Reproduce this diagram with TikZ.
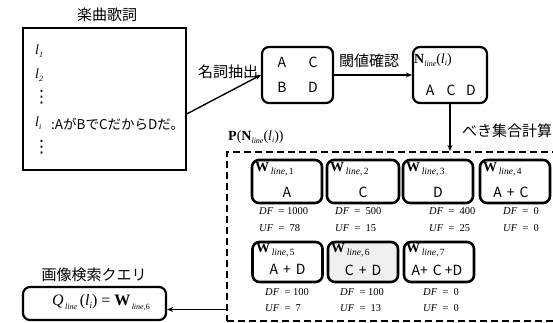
\documentclass[tikz,border=0pt]{standalone}
\usepackage{fontspec}
\setmainfont{Liberation Serif}
\newfontfamily\jp{Noto Sans CJK JP}
\newfontfamily\dvs{DejaVu Sans}
\usetikzlibrary{arrows.meta}
\newcommand\wlab[1]{\textbf{W}\raisebox{-3.5pt}{\fontsize{9.5}{9.5}\selectfont\,\textit{line},\,#1}}
\newcommand\lsb[1]{\textit{l}\raisebox{-2.5pt}{\fontsize{8}{8}\selectfont\textit{#1}}}
\begin{document}
\begin{tikzpicture}[x=1pt,y=-1pt,
  jptext/.style={font=\jp\fontsize{15}{17}\selectfont, inner sep=0pt},
  lettr/.style={font=\jp\fontsize{14}{16}\selectfont, inner sep=0pt},
  mathtxt/.style={font=\fontsize{14}{16}\selectfont, inner sep=0pt},
  small/.style={font=\fontsize{10.5}{12}\selectfont, inner sep=0pt, anchor=west},
  plainbox/.style={draw, line width=1.3pt, minimum width=163pt, minimum height=142pt, inner sep=0pt},
  rbox/.style={draw, line width=2.2pt, rounded corners=7pt, inner sep=0pt},
  wbox/.style={draw, line width=2.6pt, rounded corners=7pt, inner sep=0pt, minimum width=70pt},
  dashbox/.style={draw, line width=2pt, dash pattern=on 7pt off 4pt, inner sep=0pt},
  conn/.style={line width=1.4pt, -{Stealth[length=6pt,width=5pt]}},
  dotsn/.style={font=\dvs\fontsize{17}{17}\selectfont, inner sep=0pt, anchor=west}
]
\useasboundingbox (0,0) rectangle (553,323);

% lyrics
\node[jptext] (t1) at (107,15) {楽曲歌詞};
\node[plainbox] (lyr) at (104.5,99) {};
\node[mathtxt, anchor=west] (l1) at (35,51) {\lsb{1}};
\node[mathtxt, anchor=west] (l2) at (35,75) {\lsb{2}};
\node[dotsn] (v1) at (33,97) {⋮};
\node[mathtxt, anchor=west] (li) at (35,123) {\lsb{i}};
\node[font=\jp\fontsize{13.5}{15}\selectfont, inner sep=0pt, anchor=west] (lt) at (51,124) {:AがBでCだからDだ。};
\node[dotsn] (v2) at (33,147) {⋮};

% noun box
\node[rbox, minimum width=71pt, minimum height=56pt] (noun) at (297.5,75) {};
\node[lettr] (na) at (282,62) {A};
\node[lettr] (nc) at (313,62) {C};
\node[lettr] (nb) at (282,87) {B};
\node[lettr] (nd) at (313,87) {D};

% N box
\node[rbox, minimum width=74pt, minimum height=56pt] (nbox) at (450,75) {};
\node[mathtxt, anchor=west] (nl) at (414,60) {\textbf{N}\raisebox{-3pt}{\fontsize{8}{8}\selectfont\textit{line}}(\lsb{i})};
\node[lettr] (ma) at (430,90) {A};
\node[lettr] (mc) at (451,90) {C};
\node[lettr] (md) at (471,90) {D};

% connectors
\draw[conn] ([yshift=-15pt]lyr.east) -- (noun.west);
\node[jptext] (lab1) at (228,72) {名詞抽出};
\draw[conn] (noun.east) -- (nbox.west);
\node[jptext] (lab2) at (369,61) {閾値確認};

% dashed power set box
\node[dashbox, minimum width=340pt, minimum height=169pt] (pset) at (397,236.5) {};
\node[mathtxt, anchor=west] (plab) at (228,137) {\textbf{P}(\textbf{N}\raisebox{-3pt}{\fontsize{8}{8}\selectfont\textit{line}}(\lsb{i}))};
\draw[conn] (nbox.south) -- (nbox.south |- pset.north);
\node[jptext, anchor=west] (lab3) at (462,131) {べき集合計算};

% W boxes row 1
\node[wbox, minimum height=43pt] (w1) at (287,181.5) {};
\node[wbox, minimum height=43pt, minimum width=72pt] (w2) at (363,181.5) {};
\node[wbox, minimum height=43pt] (w3) at (438,181.5) {};
\node[wbox, minimum height=43pt] (w4) at (515,181.5) {};
% row 2
\node[wbox, minimum height=40pt] (w5) at (287.5,262) {};
\node[wbox, minimum height=40pt, fill=black!6] (w6) at (363,262) {};
\node[wbox, minimum height=40pt] (w7) at (439,262) {};

\foreach \n/\x/\y/\k in {w1l/255/169/1, w2l/330/169/2, w3l/406/169/3, w4l/483/169/4, w5l/256/250/5, w6l/331/250/6, w7l/406/250/7}{
  \node[mathtxt, anchor=west] (\n) at (\x,\y) {\wlab{\k}};
}
\node[lettr] (c1) at (287,192) {A};
\node[lettr] (c2) at (363,192) {C};
\node[lettr] (c3) at (438,192) {D};
\node[lettr] (c4) at (511,192) {A\hspace{5pt}+\hspace{5pt}C};
\node[lettr] (c5) at (287.5,269) {A\hspace{5pt}+\hspace{5pt}D};
\node[lettr] (c6) at (363,270) {C\hspace{5pt}+\hspace{5pt}D};
\node[lettr] (c7) at (437,270) {A+\hspace{5pt}C\hspace{3pt}+D};

% DF / UF
\node[small] (d1) at (259,211) {\textit{DF}\ \ = 1000};
\node[small] (u1) at (259,228) {\textit{UF}\ \ = \ 78};
\node[small] (d2) at (335,211) {\textit{DF}\ \ = \ 500};
\node[small] (u2) at (335,228) {\textit{UF}\ \ = \ 15};
\node[small] (d3) at (429,211) {\textit{DF}\ \ = \ 400};
\node[small] (u3) at (429,228) {\textit{UF}\ \ = \ 25};
\node[small] (d4) at (503,211) {\textit{DF}\ \ = \ 0};
\node[small] (u4) at (503,228) {\textit{UF}\ \ = \ 0};
\node[small] (d5) at (265,292) {\textit{DF}\ \ = 100};
\node[small] (u5) at (265,308) {\textit{UF}\ \ = \ 7};
\node[small] (d6) at (340,292) {\textit{DF}\ \ = 100};
\node[small] (u6) at (340,308) {\textit{UF}\ \ = \ 13};
\node[small] (d7) at (423,292) {\textit{DF}\ \ = \ 0};
\node[small] (u7) at (423,308) {\textit{UF}\ \ = \ 0};

% query
\node[jptext] (t2) at (94,275) {画像検索クエリ};
\node[rbox, minimum width=143pt, minimum height=33pt] (q) at (94.5,303.5) {};
\node[font=\fontsize{16}{18}\selectfont, inner sep=0pt] (qt) at (101,303) {\textit{Q}\raisebox{-4pt}{\fontsize{8}{8}\selectfont\,\textit{line}}\,(\textit{l}\raisebox{-3pt}{\fontsize{9}{9}\selectfont\textit{i}})\ =\ \textbf{W}\raisebox{-4pt}{\fontsize{8}{8}\selectfont\,\textit{line},6}};
\coordinate (qe) at ([yshift=-6pt]q.east);
\draw[conn] (pset.west |- qe) -- (qe);
\end{tikzpicture}
\end{document}
